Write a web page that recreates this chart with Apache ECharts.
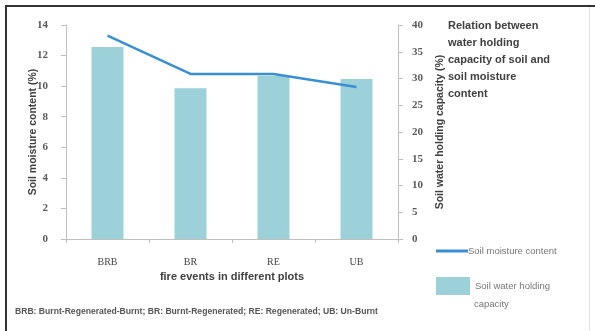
<!DOCTYPE html>
<html><head><meta charset="utf-8">
<script src="https://cdn.jsdelivr.net/npm/echarts@6/dist/echarts.min.js"></script>
<style>html,body{margin:0;padding:0;background:#fff}#c{width:595px;height:331px}</style>
</head><body><div id="c"></div>
<script>
var categories = ['BRB', 'BR', 'RE', 'UB'];
var moisture = [13.3, 10.8, 10.8, 9.95];
var capacity = [35.9, 28.2, 30.5, 29.9];
var leftTicks = {min: 0, max: 14, interval: 2};
var rightTicks = {min: 0, max: 40, interval: 5};

var chart = echarts.init(document.getElementById('c'));
var axisFont = {fontFamily: 'Liberation Serif', fontWeight: 'bold', fontSize: 11, color: '#5a5a5a'};
chart.setOption({
  animation: false,
  backgroundColor: '#fff',
  grid: {left: 66, right: 197, top: 25, bottom: 92, containLabel: false},
  xAxis: {
    type: 'category', data: categories,
    axisLine: {lineStyle: {color: '#bfbfbf'}},
    axisTick: {show: true, length: 4, lineStyle: {color: '#bfbfbf'}},
    axisLabel: {margin: 18, fontFamily: 'Liberation Serif', fontSize: 10, color: '#444'},
    name: 'fire events in different plots', nameLocation: 'middle', nameGap: 31,
    nameTextStyle: {fontFamily: 'Liberation Sans', fontWeight: 'bold', fontSize: 11, color: '#404040'}
  },
  yAxis: [{
    type: 'value', min: leftTicks.min, max: leftTicks.max, interval: leftTicks.interval,
    splitLine: {show: false},
    axisLine: {show: true, lineStyle: {color: '#bfbfbf'}},
    axisTick: {show: true, length: 5, lineStyle: {color: '#bfbfbf'}},
    axisLabel: Object.assign({margin: 18}, axisFont),
    name: 'Soil moisture content (%)', nameLocation: 'middle', nameGap: 27, nameRotate: 90,
    nameMoveOverlap: false,
    nameTextStyle: {fontFamily: 'Liberation Sans', fontWeight: 'bold', fontSize: 10.5, color: '#404040'}
  }, {
    type: 'value', min: rightTicks.min, max: rightTicks.max, interval: rightTicks.interval,
    splitLine: {show: false},
    axisLine: {show: true, lineStyle: {color: '#bfbfbf'}},
    axisTick: {show: true, length: 5, lineStyle: {color: '#bfbfbf'}},
    axisLabel: Object.assign({margin: 14}, axisFont),
    name: 'Soil water holding capacity (%)', nameLocation: 'middle', nameGap: 37, nameRotate: 90,
    nameTextStyle: {fontFamily: 'Liberation Sans', fontWeight: 'bold', fontSize: 10.5, color: '#404040'}
  }],
  legend: [{
    data: [{name: 'Soil moisture content', icon: 'rect', itemStyle: {color: '#3a8ed4'}}],
    left: 431, top: 241, orient: 'vertical',
    itemWidth: 32, itemHeight: 3,
    textStyle: {fontFamily: 'Liberation Sans', fontSize: 9.5, color: '#777', padding: [0, 0, 0, -5]}
  }, {
    data: [{name: 'Soil water holding capacity', icon: 'rect'}],
    left: 431, top: 272, orient: 'vertical',
    itemWidth: 34, itemHeight: 18,
    formatter: function () { return 'Soil water holding'; },
    textStyle: {fontFamily: 'Liberation Sans', fontSize: 9.5, color: '#777'}
  }],
  series: [{
    name: 'Soil water holding capacity', type: 'bar', yAxisIndex: 1, data: capacity,
    barWidth: 32, itemStyle: {color: '#9dd1da'}
  }, {
    name: 'Soil moisture content', type: 'line', yAxisIndex: 0, data: moisture,
    symbol: 'none', lineStyle: {color: '#3a8ed4', width: 2.5}, itemStyle: {color: '#3a8ed4'}
  }],
  graphic: [
    {type: 'text', left: 448, top: 17, style: {
      text: 'Relation between\nwater holding\ncapacity of soil and\nsoil moisture\ncontent',
      font: 'bold 11px "Liberation Sans"', fill: '#404040', lineHeight: 17}},
    {type: 'text', left: 474, top: 299, style: {
      text: 'capacity', font: '9.5px "Liberation Sans"', fill: '#777'}},
    {type: 'text', left: 15, top: 307, style: {
      text: 'BRB: Burnt-Regenerated-Burnt; BR: Burnt-Regenerated; RE: Regenerated; UB: Un-Burnt',
      font: 'bold 8.6px "Liberation Sans"', fill: '#555'}},
    {type: 'line', shape: {x1: 5, y1: 6, x2: 595, y2: 6}, style: {stroke: '#333', lineWidth: 2}},
    {type: 'line', shape: {x1: 6, y1: 6, x2: 6, y2: 331}, style: {stroke: '#333', lineWidth: 2}},
    {type: 'line', shape: {x1: 589.5, y1: 7, x2: 589.5, y2: 331}, style: {stroke: '#e4e4e4', lineWidth: 1}}
  ]
});
</script></body></html>
